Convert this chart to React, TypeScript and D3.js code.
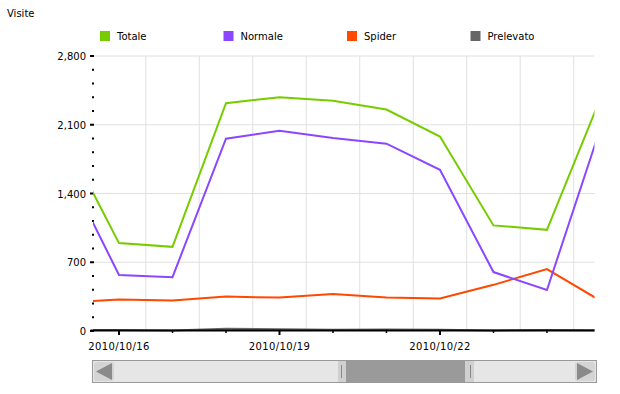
import { useMemo } from 'react';
import * as d3 from 'd3';

const days = [
  '2010-10-15', '2010-10-16', '2010-10-17', '2010-10-18', '2010-10-19', '2010-10-20',
  '2010-10-21', '2010-10-22', '2010-10-23', '2010-10-24', '2010-10-25',
];
const totale = [1950, 895, 857, 2320, 2380, 2345, 2255, 1980, 1075, 1030, 2370];
const normale = [1665, 570, 548, 1958, 2040, 1965, 1907, 1642, 600, 418, 2065];
const spider = [292, 320, 310, 350, 340, 377, 340, 332, 470, 630, 308];
const prelevato = [8, 10, 6, 22, 18, 14, 16, 12, 6, 10, 8];

const labelledDays = ['2010-10-16', '2010-10-19', '2010-10-22'];
const yTicks = [0, 700, 1400, 2100, 2800];

const seriesNames = ['Totale', 'Normale', 'Spider', 'Prelevato'];
const seriesColors = ['#77cc00', '#8a47ff', '#ff4800', '#666666'];

// visible window of the scrolled chart
const viewStart = new Date(2010, 9, 15, 12, 20);
const viewEnd = new Date(2010, 9, 24, 21, 20);

const W = 620;
const H = 394;
const margin = { top: 56, right: 25.5, bottom: 63, left: 93 };
const font = '"DejaVu Sans", Verdana, sans-serif';

const parse = (s: string) => {
  const [y, m, d] = s.split('-').map(Number);
  return new Date(y, m - 1, d);
};
const fmt = d3.timeFormat('%Y/%m/%d');

export default function App() {
  const dates = useMemo(() => days.map(parse), []);
  const x = d3.scaleTime().domain([viewStart, viewEnd]).range([margin.left, W - margin.right]);
  const y = d3.scaleLinear().domain([0, 2800]).range([H - margin.bottom, margin.top]);

  const series = [totale, normale, spider, prelevato];
  const line = d3.line<number>()
    .x((_, i) => x(dates[i]))
    .y(d => y(d));

  const dayTicks = d3.timeDay.range(d3.timeDay.ceil(viewStart), viewEnd);
  // vertical grid lines sit at noon of each day
  const gridNoons = d3.timeDay.range(d3.timeDay.floor(viewStart), viewEnd)
    .map(d => d3.timeHour.offset(d, 12))
    .filter(d => d >= viewStart && d <= viewEnd);
  const labelled = new Set(labelledDays.map(s => +parse(s)));
  const minorY = d3.range(0, 2801, 140).filter(v => v % 700 !== 0);

  const x0 = margin.left;
  const x1 = W - margin.right;
  const y0 = y(0);
  const yTop = y(2800);

  return (
    <svg width={W} height={H} style={{ position: 'absolute', left: 0, top: 0, background: '#fff' }}
      fontFamily={font} fontSize={10}>
      <defs>
        <clipPath id="plot">
          <rect x={x0} y={yTop - 5} width={x1 - x0} height={y0 - yTop + 10} />
        </clipPath>
      </defs>

      <text x={7} y={17} fill="#000">Visite</text>

      {seriesNames.map((name, i) => (
        <g key={name} transform={`translate(${100 + i * 123.5},31)`}>
          <rect width={10} height={10} fill={seriesColors[i]} />
          <text x={17} y={9} fill="#000">{name}</text>
        </g>
      ))}

      {/* grid */}
      {yTicks.filter(v => v > 0).map(v => (
        <line key={v} x1={x0} x2={x1} y1={y(v)} y2={y(v)} stroke="#e0e0e0" />
      ))}
      {gridNoons.map(d => (
        <line key={+d} x1={x(d)} x2={x(d)} y1={yTop} y2={y0} stroke="#e0e0e0" />
      ))}

      {/* y axis ticks */}
      {yTicks.map(v => (
        <g key={v}>
          <rect x={90} y={y(v) - 1} width={4} height={2} fill="#000" />
          <text x={86} y={y(v) + 4} textAnchor="end" fill="#000">{d3.format(',')(v)}</text>
        </g>
      ))}
      {minorY.map(v => (
        <rect key={v} x={92} y={y(v) - 1} width={2} height={2} fill="#000" />
      ))}

      {/* series, Prelevato drawn first so it stays under the others */}
      <g clipPath="url(#plot)">
        {series.map((s, i) => ({ s, i })).reverse().map(({ s, i }) => (
          <path key={i} d={line(s) ?? ''} fill="none" stroke={seriesColors[i]}
            strokeWidth={2} strokeLinejoin="miter" />
        ))}
      </g>

      {/* x axis */}
      <rect x={90.5} y={y0 - 1.5} width={x1 - 90.5} height={2} fill="#000" />
      {dayTicks.map(d => {
        const big = labelled.has(+d);
        return (
          <g key={+d}>
            <rect x={x(d) - (big ? 1 : 0.75)} y={y0} width={big ? 2 : 1.5} height={big ? 4 : 2} fill="#000" />
            {big && <text x={x(d)} y={350} textAnchor="middle" letterSpacing={0.4} fill="#000">{fmt(d)}</text>}
          </g>
        );
      })}

      {/* scrollbar */}
      <rect x={92.5} y={360.5} width={504} height={22} fill="#e6e6e6" stroke="#999" />
      <rect x={94} y={362} width={20} height={19} rx={3} fill="#d4d4d4" />
      <path d="M96,371.5 L112,363 L112,380 Z" fill="#8a8a8a" />
      <rect x={575} y={362} width={20} height={19} rx={3} fill="#d4d4d4" />
      <path d="M593,371.5 L577,363 L577,380 Z" fill="#8a8a8a" />
      <rect x={338} y={361} width={9} height={21} fill="#d0d0d0" />
      <rect x={346} y={361} width={119} height={21} fill="#9a9a9a" />
      <rect x={465} y={361} width={9} height={21} fill="#d0d0d0" />
      <line x1={341.5} x2={341.5} y1={365} y2={378} stroke="#888" />
      <line x1={470.5} x2={470.5} y1={365} y2={378} stroke="#888" />
    </svg>
  );
}
